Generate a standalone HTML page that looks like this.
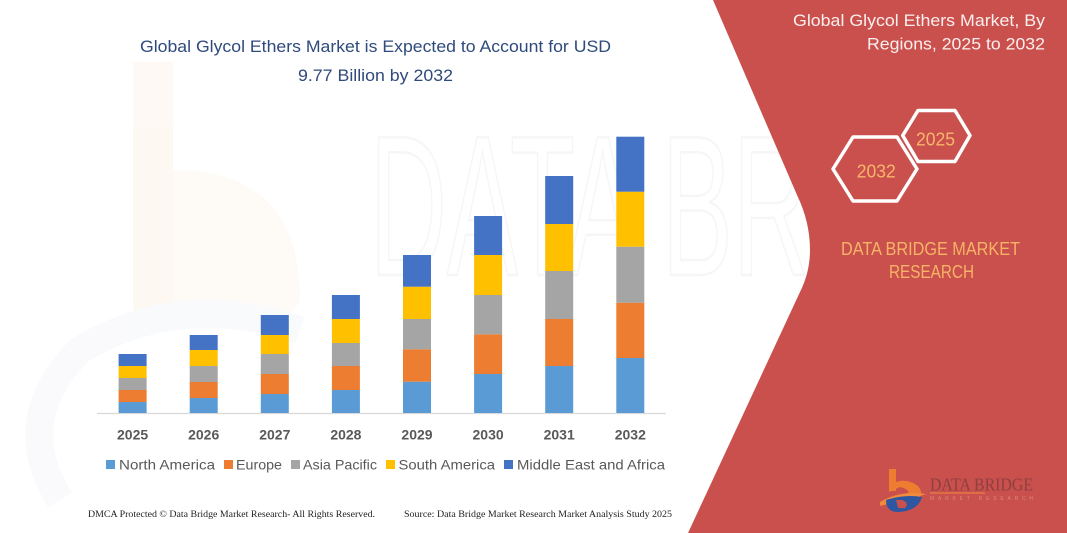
<!DOCTYPE html>
<html>
<head>
<meta charset="utf-8">
<style>
html,body{margin:0;padding:0;background:#fff;}
body{width:1067px;height:533px;overflow:hidden;}
svg{display:block;}
</style>
</head>
<body>
<svg width="1067" height="533" viewBox="0 0 1067 533" xmlns="http://www.w3.org/2000/svg">
  <rect x="0" y="0" width="1067" height="533" fill="#ffffff"/>

  <!-- faint watermark logo on left -->
  <g opacity="0.45">
    <rect x="133" y="62" width="40" height="265" fill="#fdf1e6"/>
    <path d="M173,170 Q300,170 300,300 Q290,330 173,327 Z" fill="#fdf4ec"/>
    <path d="M60,500 Q10,420 80,350 Q180,290 300,330" fill="none" stroke="#f3f5f9" stroke-width="28"/>
  </g>
  <!-- faint watermark text -->
  <text x="370" y="275" font-family="Liberation Sans, sans-serif" font-size="200" fill="none" stroke="#f6f6f6" stroke-width="2.5" textLength="700" lengthAdjust="spacingAndGlyphs">DATA BRIDGE</text>

  <!-- Red right panel -->
  <path d="M713,0 L797,195 Q810,222 810,250 Q810,272 800,292 L688,533 L1067,533 L1067,0 Z" fill="#c9504d"/>

  <!-- Title -->
  <g font-family="Liberation Sans, sans-serif" font-size="17" fill="#2f4a7c">
    <text x="140" y="52" textLength="471" lengthAdjust="spacingAndGlyphs">Global Glycol Ethers Market is Expected to Account for USD</text>
    <text x="298" y="81" textLength="155" lengthAdjust="spacingAndGlyphs">9.77 Billion by 2032</text>
  </g>

  <!-- Axis line -->
  <line x1="97" y1="413.5" x2="666" y2="413.5" stroke="#d9d9d9" stroke-width="1.2"/>

  <!-- Bars -->
  <g>
    <rect x="118.6" y="402" width="28" height="11" fill="#5b9bd5"/>
    <rect x="118.6" y="390" width="28" height="12" fill="#ed7d31"/>
    <rect x="118.6" y="378" width="28" height="12" fill="#a5a5a5"/>
    <rect x="118.6" y="366" width="28" height="12" fill="#ffc000"/>
    <rect x="118.6" y="354" width="28" height="12" fill="#4472c4"/>

    <rect x="189.7" y="398" width="28" height="15" fill="#5b9bd5"/>
    <rect x="189.7" y="382" width="28" height="16" fill="#ed7d31"/>
    <rect x="189.7" y="366" width="28" height="16" fill="#a5a5a5"/>
    <rect x="189.7" y="350" width="28" height="16" fill="#ffc000"/>
    <rect x="189.7" y="335" width="28" height="15" fill="#4472c4"/>

    <rect x="260.8" y="394" width="28" height="19" fill="#5b9bd5"/>
    <rect x="260.8" y="374" width="28" height="20" fill="#ed7d31"/>
    <rect x="260.8" y="354" width="28" height="20" fill="#a5a5a5"/>
    <rect x="260.8" y="335" width="28" height="19" fill="#ffc000"/>
    <rect x="260.8" y="315" width="28" height="20" fill="#4472c4"/>

    <rect x="331.9" y="390" width="28" height="23" fill="#5b9bd5"/>
    <rect x="331.9" y="366" width="28" height="24" fill="#ed7d31"/>
    <rect x="331.9" y="343" width="28" height="23" fill="#a5a5a5"/>
    <rect x="331.9" y="319" width="28" height="24" fill="#ffc000"/>
    <rect x="331.9" y="295" width="28" height="24" fill="#4472c4"/>

    <rect x="403" y="381.7" width="28" height="31.3" fill="#5b9bd5"/>
    <rect x="403" y="349.3" width="28" height="32.4" fill="#ed7d31"/>
    <rect x="403" y="319" width="28" height="30.3" fill="#a5a5a5"/>
    <rect x="403" y="286.7" width="28" height="32.3" fill="#ffc000"/>
    <rect x="403" y="255" width="28" height="31.7" fill="#4472c4"/>

    <rect x="474.1" y="374" width="28" height="39" fill="#5b9bd5"/>
    <rect x="474.1" y="334.3" width="28" height="39.7" fill="#ed7d31"/>
    <rect x="474.1" y="295" width="28" height="39.3" fill="#a5a5a5"/>
    <rect x="474.1" y="255" width="28" height="40" fill="#ffc000"/>
    <rect x="474.1" y="216" width="28" height="39" fill="#4472c4"/>

    <rect x="545.2" y="366" width="28" height="47" fill="#5b9bd5"/>
    <rect x="545.2" y="319" width="28" height="47" fill="#ed7d31"/>
    <rect x="545.2" y="271" width="28" height="48" fill="#a5a5a5"/>
    <rect x="545.2" y="224" width="28" height="47" fill="#ffc000"/>
    <rect x="545.2" y="176" width="28" height="48" fill="#4472c4"/>

    <rect x="616.3" y="358" width="28" height="55" fill="#5b9bd5"/>
    <rect x="616.3" y="302.7" width="28" height="55.3" fill="#ed7d31"/>
    <rect x="616.3" y="246.7" width="28" height="56" fill="#a5a5a5"/>
    <rect x="616.3" y="191.7" width="28" height="55" fill="#ffc000"/>
    <rect x="616.3" y="136.7" width="28" height="55" fill="#4472c4"/>
  </g>

  <!-- Year labels -->
  <g font-family="Liberation Sans, sans-serif" font-size="14" font-weight="bold" fill="#595959" text-anchor="middle">
    <text x="132.6" y="439.5">2025</text>
    <text x="203.7" y="439.5">2026</text>
    <text x="274.8" y="439.5">2027</text>
    <text x="345.9" y="439.5">2028</text>
    <text x="417" y="439.5">2029</text>
    <text x="488.1" y="439.5">2030</text>
    <text x="559.2" y="439.5">2031</text>
    <text x="630.3" y="439.5">2032</text>
  </g>

  <!-- Legend -->
  <g font-family="Liberation Sans, sans-serif" font-size="14" fill="#595959">
    <rect x="106" y="460" width="9" height="9" fill="#5b9bd5"/>
    <text x="119" y="469.3" textLength="96" lengthAdjust="spacingAndGlyphs">North America</text>
    <rect x="224" y="460" width="9" height="9" fill="#ed7d31"/>
    <text x="236" y="469.3" textLength="46" lengthAdjust="spacingAndGlyphs">Europe</text>
    <rect x="291" y="460" width="9" height="9" fill="#a5a5a5"/>
    <text x="303" y="469.3" textLength="74" lengthAdjust="spacingAndGlyphs">Asia Pacific</text>
    <rect x="386" y="460" width="9" height="9" fill="#ffc000"/>
    <text x="398.5" y="469.3" textLength="96.5" lengthAdjust="spacingAndGlyphs">South America</text>
    <rect x="504" y="460" width="9" height="9" fill="#4472c4"/>
    <text x="517" y="469.3" textLength="148" lengthAdjust="spacingAndGlyphs">Middle East and Africa</text>
  </g>

  <!-- Footer -->
  <g font-family="Liberation Serif, serif" font-size="9.5" fill="#222">
    <text x="88" y="517" textLength="287" lengthAdjust="spacingAndGlyphs">DMCA Protected © Data Bridge Market Research-  All Rights Reserved.</text>
    <text x="404" y="517" textLength="268" lengthAdjust="spacingAndGlyphs">Source: Data Bridge Market Research  Market Analysis Study 2025</text>
  </g>

  <!-- Right panel title -->
  <g font-family="Liberation Sans, sans-serif" font-size="17" fill="#fcefed">
    <text x="793" y="26" textLength="252" lengthAdjust="spacingAndGlyphs">Global Glycol Ethers Market, By</text>
    <text x="867" y="49.5" textLength="178" lengthAdjust="spacingAndGlyphs">Regions, 2025 to 2032</text>
  </g>

  <!-- Hexagons -->
  <g fill="none" stroke="#ffffff" stroke-width="3.5" stroke-linejoin="round">
    <polygon points="902.7,135.5 918,110.5 955,110.5 970,135.5 955,161.5 918,161.5"/>
    <polygon points="833,169 853,137 897,137 917,169 897,201 853,201"/>
  </g>
  <g font-family="Liberation Sans, sans-serif" font-size="18" fill="#f8b56a" text-anchor="middle">
    <text x="935.5" y="145.7" textLength="39" lengthAdjust="spacingAndGlyphs">2025</text>
    <text x="876.3" y="177.3" textLength="39" lengthAdjust="spacingAndGlyphs">2032</text>
  </g>

  <!-- DATA BRIDGE MARKET RESEARCH -->
  <g font-family="Liberation Sans, sans-serif" font-size="18" fill="#f7b366">
    <text x="841" y="255" textLength="179" lengthAdjust="spacingAndGlyphs">DATA BRIDGE MARKET</text>
    <text x="889" y="278" textLength="85" lengthAdjust="spacingAndGlyphs">RESEARCH</text>
  </g>

  <!-- Bottom-right logo -->
  <g>
    <rect x="889" y="469" width="7" height="22" fill="#ee7d31"/>
    <path d="M889,485 Q905,476 918,486 Q924,493 918,499 L905,499 Q914,490 900,487 L889,492 Z" fill="#ee7d31"/>
    <path d="M880,502 Q900,490 926,494 Q915,498 905,500 Q892,503 880,506 Z" fill="#f08a3c"/>
    <path d="M886,500 Q905,494 922,497 Q918,511 898,512 Q886,512 886,500 Z" fill="#2f56a0"/>
    <path d="M896,500 L902,500 Q910,503 905,508 L898,508 Z" fill="#c9504d"/>
    <text x="930" y="490.5" font-family="Liberation Serif, serif" font-size="18" fill="#8e3f3f" textLength="103" lengthAdjust="spacingAndGlyphs">DATA BRIDGE</text>
    <line x1="930" y1="493" x2="985" y2="493" stroke="#f08a3c" stroke-width="1"/>
    <text x="930" y="500" font-family="Liberation Sans, sans-serif" font-size="5" fill="#d98a80" textLength="103" lengthAdjust="spacing">MARKET   RESEARCH</text>
  </g>
</svg>
</body>
</html>
